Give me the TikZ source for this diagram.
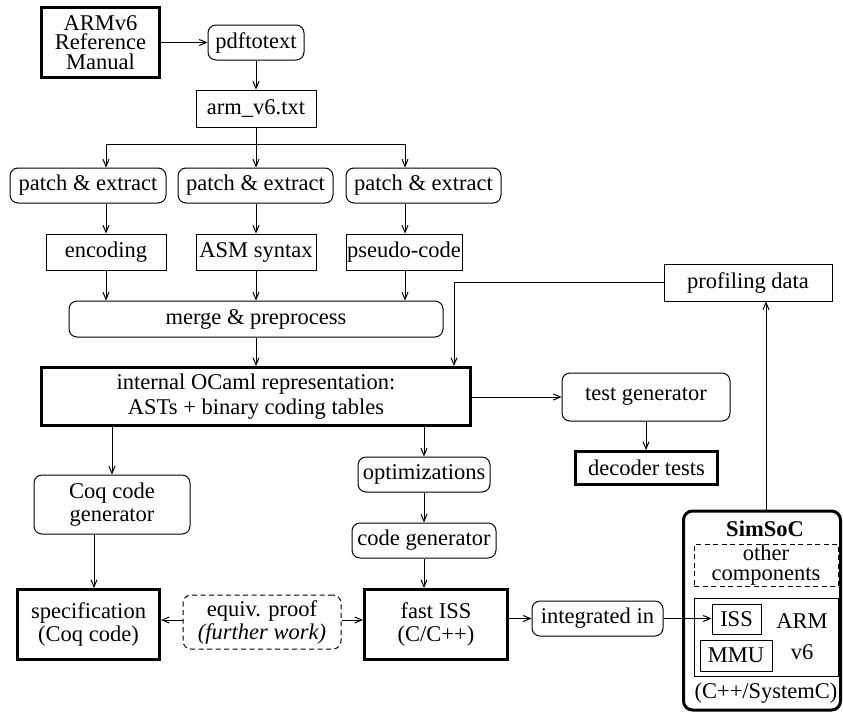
\documentclass[tikz,border=0pt]{standalone}
\usepackage{fontspec}
\setmainfont{Liberation Serif}
\usetikzlibrary{arrows.meta,calc}
\tikzset{
  base/.style={draw, line width=1pt, inner sep=0pt, align=center, font=\fontsize{22.5}{23}\selectfont},
  sbox/.style={base},
  rbox/.style={base, rounded corners=8pt},
  tbox/.style={base, line width=3pt},
  dbox/.style={base, dashed, dash pattern=on 5pt off 3.5pt},
  lbl/.style={inner sep=0pt, align=center, font=\fontsize{22.5}{23}\selectfont},
  arr/.style={line width=1pt, -{Straight Barb[length=7pt,width=6pt]}},
  ln/.style={line width=1pt},
}
\begin{document}
\begin{tikzpicture}[x=1pt,y=-1pt]
\useasboundingbox (0,0) rectangle (843,713);
% top
\node[tbox, minimum width=118pt, minimum height=70pt, font=\fontsize{22.5}{19.5}\selectfont] (arm) at (100.5,42.5) {ARMv6\\Reference\\Manual};
\node[rbox, minimum width=96pt, minimum height=35pt] (pdf) at (256,42.5) {pdftotext};
\node[sbox, minimum width=120pt, minimum height=37pt] (txt) at (256,108.5) {arm\_v6.txt};
% patch
\node[rbox, minimum width=156pt, minimum height=35pt] (p1) at (88,185.5) {patch \& extract};
\node[rbox, minimum width=155pt, minimum height=35pt] (p2) at (255.5,185.5) {patch \& extract};
\node[rbox, minimum width=155pt, minimum height=35pt] (p3) at (423.5,185.5) {patch \& extract};
\node[sbox, minimum width=120pt, minimum height=36pt] (enc) at (106,252) {encoding};
\node[sbox, minimum width=120pt, minimum height=36pt] (asm) at (256,252) {ASM syntax};
\node[sbox, minimum width=116pt, minimum height=36pt] (pse) at (404,252) {pseudo-code};
\node[rbox, minimum width=374pt, minimum height=36pt] (merge) at (256,319) {merge \& preprocess};
\node[tbox, minimum width=429pt, minimum height=58pt, font=\fontsize{22.5}{25}\selectfont] (int) at (256,396.5) {internal OCaml representation:\\ASTs + binary coding tables};
\node[sbox, minimum width=168pt, minimum height=37pt] (prof) at (748,282.5) {profiling data};
\node[rbox, minimum width=168pt, minimum height=48pt] (test) at (646,397) {test generator};
\node[tbox, minimum width=142pt, minimum height=33pt] (dec) at (646.5,468) {decoder tests};
\node[rbox, minimum width=156pt, minimum height=59pt] (coq) at (112,504.5) {Coq code\\generator};
\node[rbox, minimum width=132pt, minimum height=35pt] (opt) at (424,474.5) {optimizations};
\node[rbox, minimum width=144pt, minimum height=35pt] (cg) at (424,540.5) {code generator};
\node[tbox, minimum width=143pt, minimum height=70pt] (fiss) at (436,624.5) {fast ISS\\(C/C++)};
\node[tbox, minimum width=142pt, minimum height=70pt] (spec) at (88.5,624.5) {specification\\(Coq code)};
\node[dbox, rounded corners=8pt, minimum width=158pt, minimum height=54pt] (eq) at (262,622) {equiv. proof\\\textit{(further work)}};
\node[rbox, minimum width=131pt, minimum height=35pt] (intg) at (597.5,618.5) {integrated in};
% SimSoC
\node[tbox, rounded corners=9pt, minimum width=157pt, minimum height=199pt] (sim) at (762,610.5) {};
\node[lbl, font=\fontsize{22.5}{23}\selectfont\bfseries] (simt) at (765,529) {SimSoC};
\node[dbox, minimum width=144pt, minimum height=42pt, font=\fontsize{22.5}{19.5}\selectfont] (oth) at (766,565) {other\\components};
\node[sbox, minimum width=144pt, minimum height=78pt] (armb) at (766,637) {};
\node[sbox, minimum width=49pt, minimum height=30pt] (issin) at (736.5,619) {ISS};
\node[sbox, minimum width=72pt, minimum height=31pt] (mmu) at (736,655.5) {MMU};
\node[lbl] (armt) at (802,621) {ARM};
\node[lbl] (v6t) at (802,652) {v6};
\node[lbl] (sysc) at (766,693) {(C++/SystemC)};
% connectors
\draw[arr] (arm.east |- pdf.west) -- (pdf.west);
\draw[arr] (pdf.south) -- (txt.north);
\coordinate (sp) at (256,144);
\coordinate (spl) at (106,144);
\coordinate (spr) at (405,144);
\draw[ln] (txt.south) -- (sp);
\draw[ln] (spl) -- (spr);
\draw[arr] (spl) -- (spl |- p1.north);
\draw[arr] (sp) -- (sp |- p2.north);
\draw[arr] (spr) -- (spr |- p3.north);
\draw[arr] (enc.north |- p1.south) -- (enc.north);
\draw[arr] (asm.north |- p2.south) -- (asm.north);
\draw[arr] ([xshift=1pt]pse.north |- p3.south) -- ([xshift=1pt]pse.north);
\draw[arr] (enc.south) -- (enc.south |- merge.north);
\draw[arr] (asm.south) -- (asm.south |- merge.north);
\draw[arr] ([xshift=1pt]pse.south) -- ([xshift=1pt]pse.south |- merge.north);
\draw[arr] (merge.south) -- (int.north);
\coordinate (pk) at (454,282.5);
\draw[arr] (prof.west) -- (pk) -- (pk |- int.north);
\draw[arr] (int.east |- test.west) -- (test.west);
\draw[arr] (test.south) -- (test.south |- dec.north);
\draw[arr] (coq.north |- int.south) -- (coq.north);
\draw[arr] (opt.north |- int.south) -- (opt.north);
\draw[arr] (opt.south) -- (cg.north);
\draw[arr] (cg.south) -- (cg.south |- fiss.north);
\draw[arr] ([xshift=-18pt]coq.south) -- ([xshift=-18pt]coq.south |- spec.north);
\draw[arr] ([yshift=2pt]eq.west) -- ([yshift=2pt]eq.west -| spec.east);
\draw[arr] ([yshift=2pt]eq.east) -- ([yshift=2pt]eq.east -| fiss.west);
\draw[arr] (intg.west -| fiss.east) -- (intg.west);
\draw[arr] (intg.east) -- (intg.east -| issin.west);
\draw[arr] ([xshift=4pt]sim.north) -- ([xshift=4pt]sim.north |- prof.south);
\end{tikzpicture}
\end{document}
